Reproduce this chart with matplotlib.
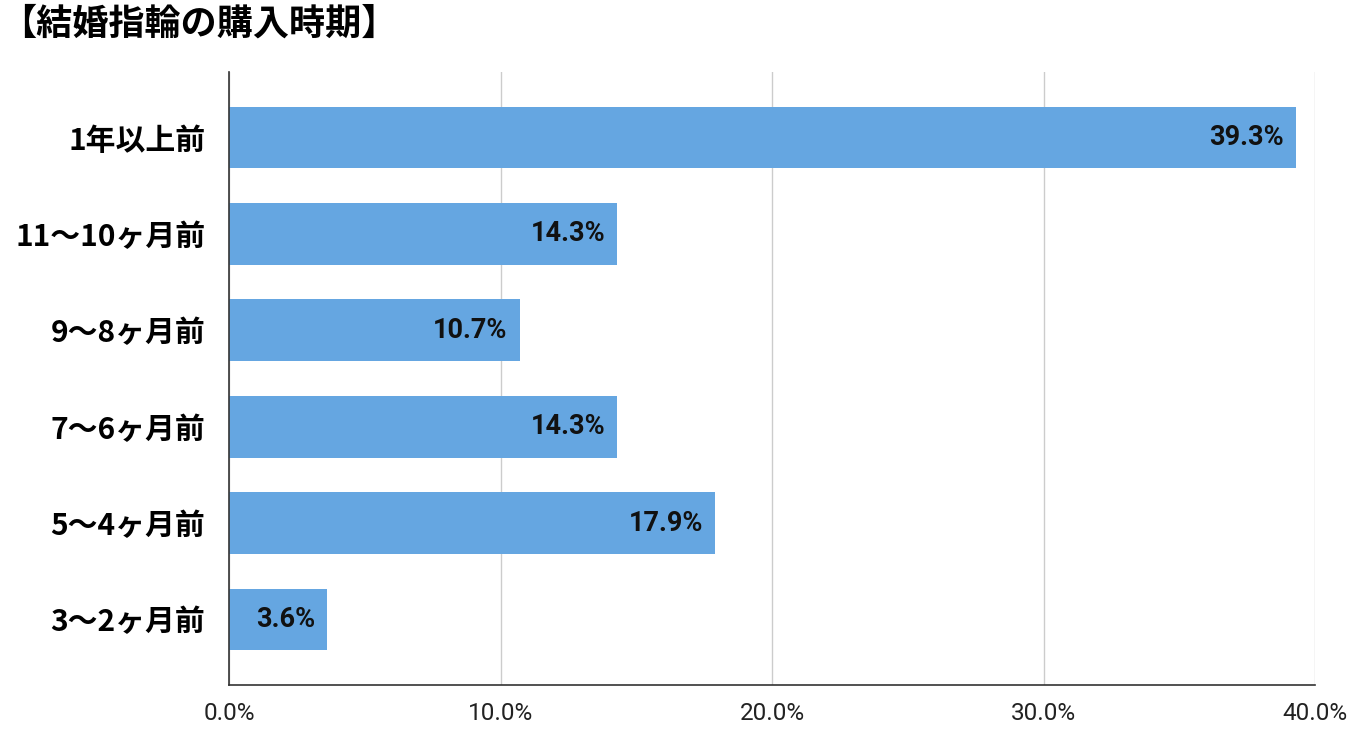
import matplotlib
matplotlib.use('Agg')
import matplotlib.pyplot as plt

# Data
categories = ['1年以上前', '11〜10ヶ月前', '9〜8ヶ月前', '7〜6ヶ月前', '5〜4ヶ月前', '3〜2ヶ月前']
values = [39.3, 14.3, 10.7, 14.3, 17.9, 3.6]
xticks = [0, 10, 20, 30, 40]
title = '【結婚指輪の購入時期】'


def main():

    plt.rcParams['font.family'] = ['Roboto', 'Noto Sans CJK JP', 'DejaVu Sans']

    fig = plt.figure(figsize=(13.55, 7.36), dpi=100)
    ax = fig.add_axes([0.169, 0.0693, 0.8015, 0.8329])

    # Bars
    y = list(range(len(categories)))
    ax.barh(y, values, height=0.64, color='#65a6e1', zorder=3)

    # Value labels inside bars
    for yi, v in zip(y, values):
        ax.text(v - 0.44, yi, f'{v:.1f}%', ha='right', va='center',
                fontsize=19.5, fontweight='bold', color='#111111', zorder=4)

    # Axes formatting
    ax.set_xlim(0, 40)
    ax.set_ylim(len(categories) - 0.32, -0.68)
    ax.set_xticks(xticks)
    ax.set_xticklabels([f'{t:.1f}%' for t in xticks], fontsize=17.5, color='#222222')
    ax.set_yticks(y)
    ax.set_yticklabels(categories, fontsize=21.5, fontweight='bold',
                       family=['Noto Sans CJK JP', 'DejaVu Sans'])
    ax.tick_params(axis='both', length=0)
    ax.tick_params(axis='x', pad=12)
    ax.tick_params(axis='y', pad=17)

    ax.grid(axis='x', color='#cccccc', linewidth=1, zorder=0)
    for s in ['top', 'right']:
        ax.spines[s].set_visible(False)
    ax.spines['left'].set_color('#333333')
    ax.spines['bottom'].set_color('#333333')
    ax.spines['left'].set_linewidth(1.2)
    ax.spines['bottom'].set_linewidth(1.2)
    ax.spines['left'].set_zorder(5)

    fig.text(0.0, 0.967, title, ha='left', va='center', fontsize=26,
             fontweight='bold', family=['Noto Sans CJK JP', 'DejaVu Sans'])

    fig.savefig('out.png', dpi=100)
    plt.close()


if __name__ == "__main__":
    main()
